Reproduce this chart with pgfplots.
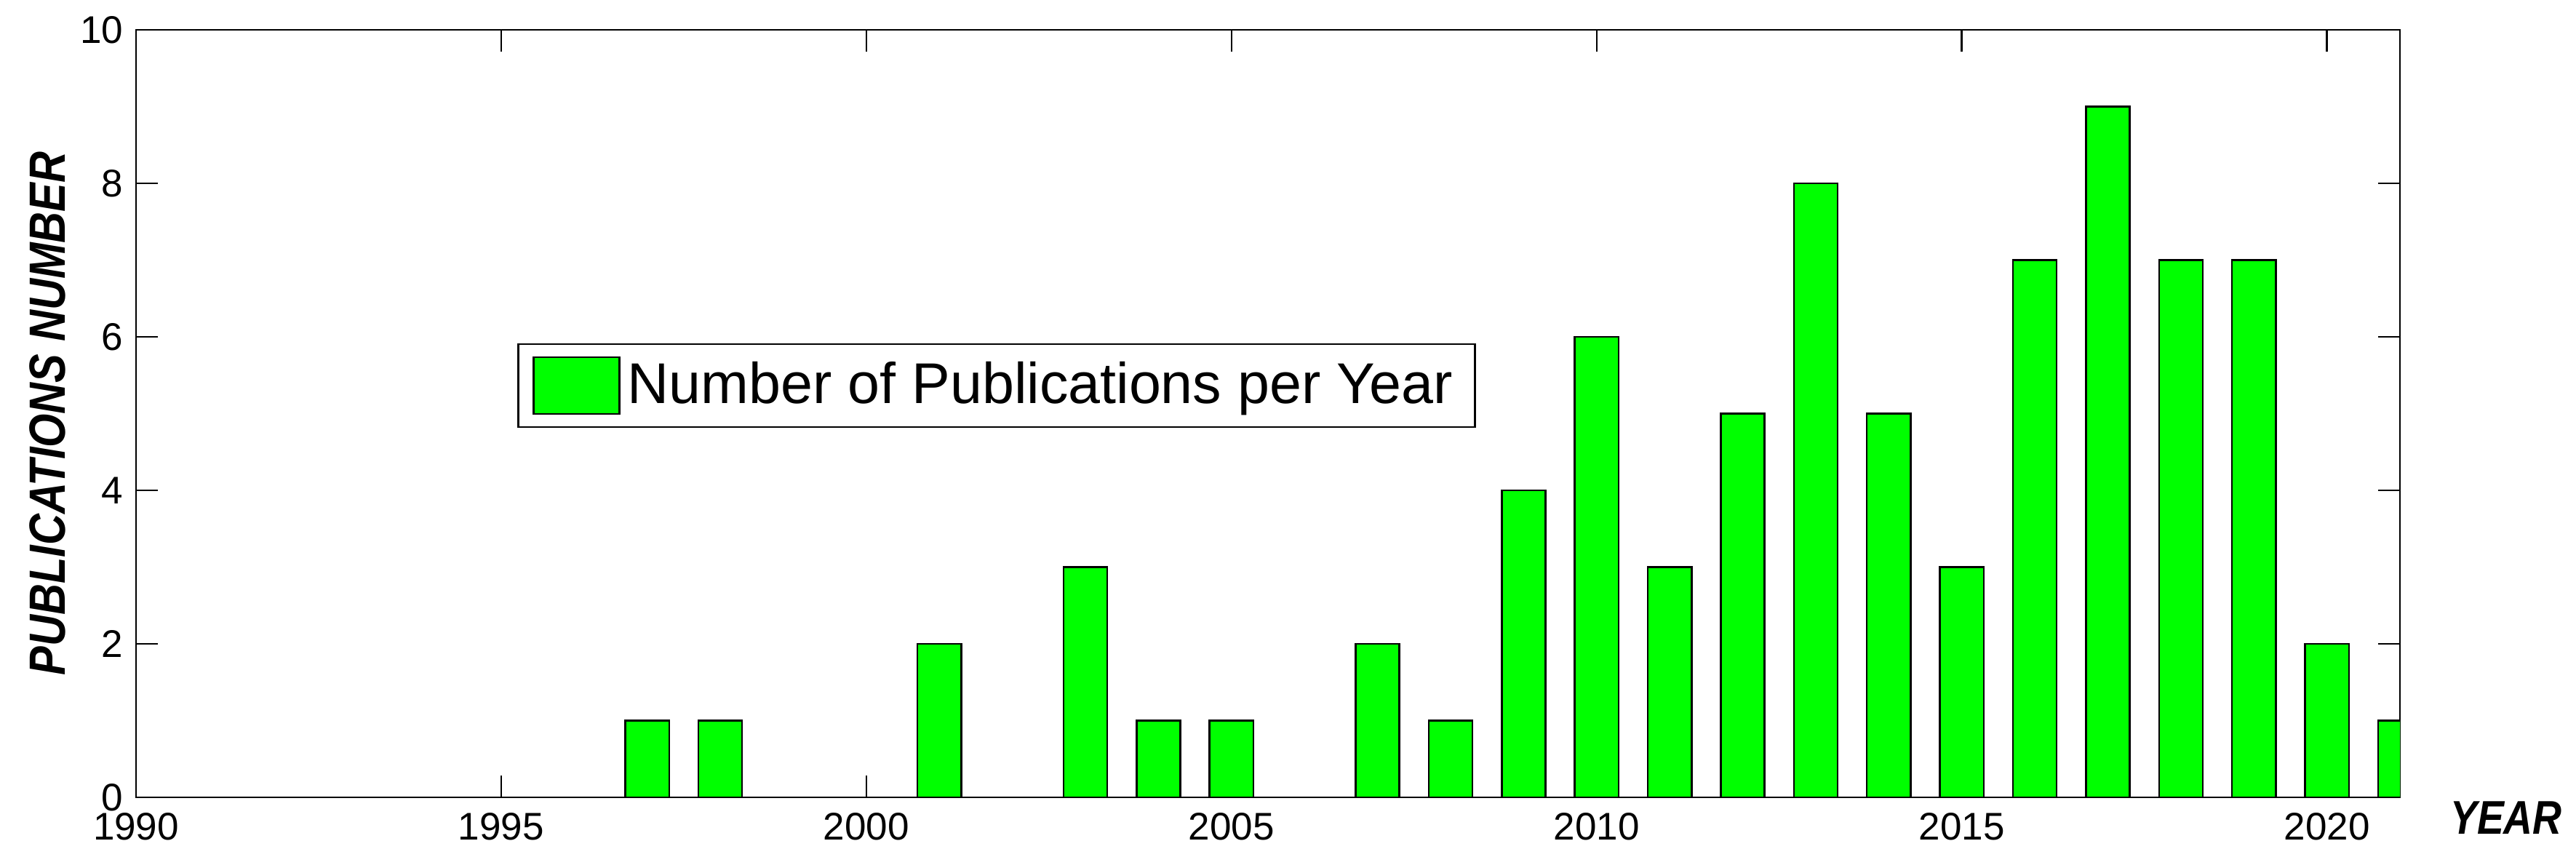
\documentclass[border=0pt]{standalone}
\usepackage{pgfplots}
\pgfplotsset{compat=1.18}
\usepackage{fontspec}
\setmainfont{Liberation Sans}
\newfontfamily\lblfont{Liberation Sans}[FakeStretch=0.85]
\definecolor{barg}{RGB}{0,255,0}
\pgfplotsset{
    boxlegend/.style={legend image code/.code={\draw[##1] (0pt,-7.8pt) rectangle (23.6pt,7.8pt);}}
}

\begin{document}
\begin{tikzpicture}
\begin{axis}[
    at={(0,0)}, anchor=south west,
    scale only axis,
    width=622.4pt, height=211pt,
    xmin=1990, xmax=2021, ymin=0, ymax=10,
    xtick={1990,1995,...,2020},
    ytick={0,2,...,10},
    tick align=inside,
    major tick length=6pt,
    every tick/.style={black, line width=0.5pt},
    axis line style={black, line width=0.55pt},
    /pgf/number format/assume math mode=true,
    xticklabel style={/pgf/number format/1000 sep={}, yshift=-0.7pt},
    tick label style={font=\fontsize{10.6}{12}\selectfont},
    ylabel={\lblfont\bfseries\itshape PUBLICATIONS NUMBER},
    ylabel style={at={(axis description cs:-0.0392,0.5)}, anchor=center, font=\fontsize{14}{16}\selectfont},
    xlabel={\lblfont\bfseries\itshape YEAR},
    xlabel style={at={(axis description cs:1.0469,-0.0265)}, anchor=center, font=\fontsize{13}{15}\selectfont},
    legend style={at={(axis description cs:0.1684,0.5915)}, anchor=north west,
        draw=black, line width=0.5pt,
        font=\fontsize{15.8}{18}\selectfont,
        inner xsep=4pt, inner ysep=2.9pt},
    legend cell align=left,
]
\addplot[ybar, bar width=0.6, fill=barg, draw=black, line width=0.5pt, boxlegend]
coordinates {
    (1997,1) (1998,1) (2001,2) (2003,3) (2004,1) (2005,1) (2007,2)
    (2008,1) (2009,4) (2010,6) (2011,3) (2012,5) (2013,8) (2014,5)
    (2015,3) (2016,7) (2017,9) (2018,7) (2019,7) (2020,2) (2021,1)
};
\addlegendentry{Number of Publications per Year}
\end{axis}
\pgfresetboundingbox
\useasboundingbox (-37.4pt,-16.2pt) rectangle (670.8pt,219.2pt);
\end{tikzpicture}
\end{document}
